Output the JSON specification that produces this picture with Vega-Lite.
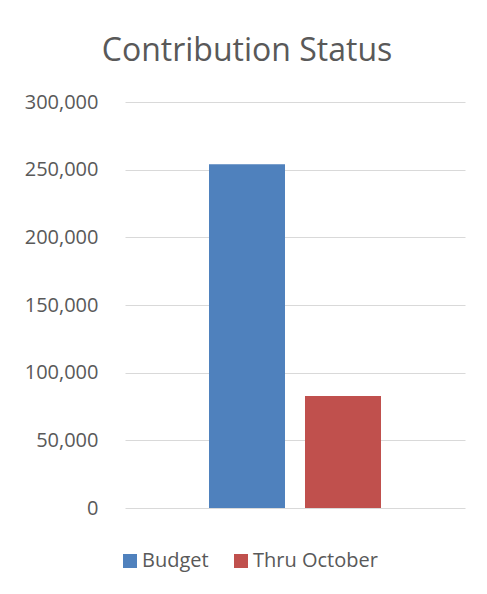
{
  "$schema": "https://vega.github.io/schema/vega-lite/v6.json",
  "width": 340,
  "height": 406,
  "autosize": {"type": "none"},
  "padding": {"left": 125, "top": 102, "right": 22, "bottom": 86},
  "background": "white",
  "config": {"view": {"stroke": null}, "font": "Open Sans"},
  "title": {
    "text": "Contribution Status",
    "fontSize": 32,
    "font": "Open Sans",
    "fontWeight": "normal",
    "color": "#595959",
    "anchor": "middle",
    "dx": -48,
    "offset": 24
  },
  "data": {
    "values": [
      {"series": "Budget", "amount": 254000},
      {"series": "Thru October", "amount": 82700}
    ]
  },
  "mark": {"type": "bar"},
  "encoding": {
    "x": {
      "field": "series",
      "type": "nominal",
      "sort": null,
      "scale": {"paddingInner": 0.2083, "paddingOuter": 0.875},
      "axis": null
    },
    "y": {
      "field": "amount",
      "type": "quantitative",
      "scale": {"domain": [0, 300000]},
      "axis": {
        "title": null,
        "values": [0, 50000, 100000, 150000, 200000, 250000, 300000],
        "format": ",d",
        "domain": false,
        "ticks": false,
        "labelPadding": 27,
        "labelFontSize": 20,
        "labelFont": "Open Sans",
        "labelColor": "#595959",
        "gridColor": "#d9d9d9",
        "gridWidth": 1
      }
    },
    "color": {
      "field": "series",
      "type": "nominal",
      "sort": null,
      "scale": {"domain": ["Budget", "Thru October"], "range": ["#4F81BD", "#C0504D"]},
      "legend": {
        "title": null,
        "orient": "none",
        "direction": "horizontal",
        "legendX": -5,
        "legendY": 449,
        "symbolType": "square",
        "symbolSize": 196,
        "symbolStrokeWidth": 0,
        "labelFontSize": 20,
        "labelFont": "Open Sans",
        "labelColor": "#595959",
        "columnPadding": 22,
        "labelOffset": 2
      }
    }
  }
}
